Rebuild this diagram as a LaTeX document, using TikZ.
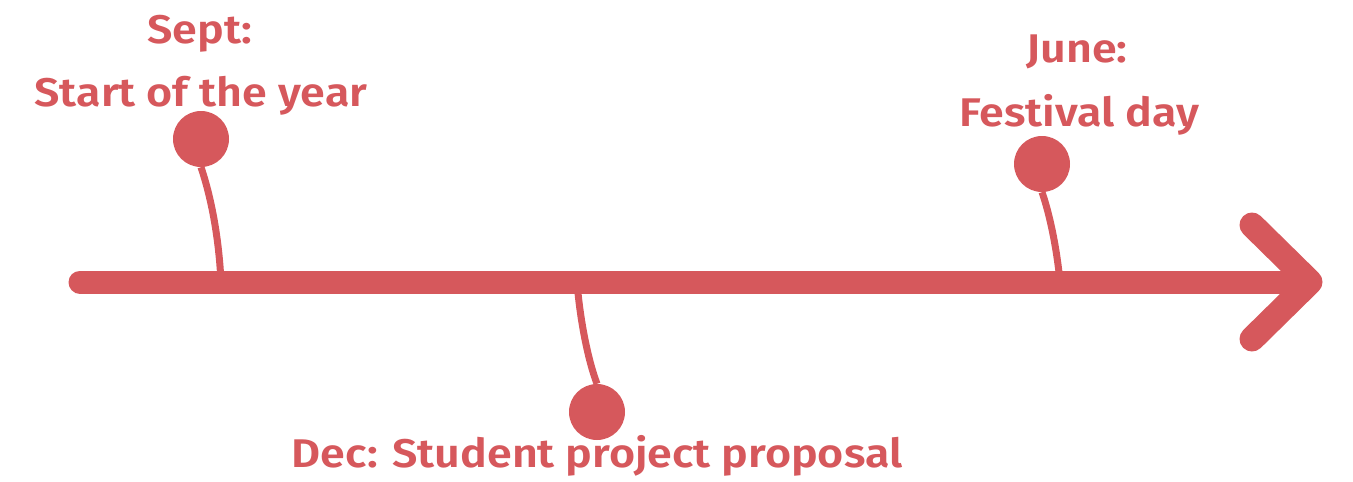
\documentclass[tikz,border=0pt]{standalone}
\usepackage{fontspec}
\setmainfont{Fira Sans}
\newfontfamily\lblfont{Fira Sans SemiBold}
\definecolor{tred}{HTML}{D6585C}
\begin{document}
\begin{tikzpicture}[x=1pt,y=-1pt]
\useasboundingbox (0,0) rectangle (1353,482);
\tikzset{dot/.style={circle, fill=tred, inner sep=0pt, minimum size=56pt},
  lbl/.style={text=tred, font=\fontsize{40}{46}\selectfont\lblfont, inner sep=0pt, anchor=base, xscale=1.12}}
\coordinate (a0) at (80,282);
\coordinate (a1) at (1310,282);
\draw[tred, line width=23pt, line cap=round](a0) -- (a1);
\coordinate (h0) at (1252,225);
\coordinate (h1) at (1252,339);
\draw[tred, line width=25pt, line cap=round, line join=round](h0) -- (a1) -- (h1);
\node[dot] (sept) at (201,139){};
\coordinate (sax) at (221,282);
\draw[tred, line width=7pt](sept.south) .. controls (212,200) and (219,240) .. (sax);
\node[dot] (dec) at (597,412){};
\coordinate (dax) at (577,282);
\draw[tred, line width=7pt](dax) .. controls (580,320) and (588,360) .. (dec.north);
\node[dot] (june) at (1042,164){};
\coordinate (jax) at (1060,282);
\draw[tred, line width=7pt](june.south) .. controls (1050,215) and (1057,250) .. (jax);
\node[lbl] (septhd) at (200,43){Sept:};
\node[lbl] (septtxt) at (201,106){Start of the year};
\node[lbl] (junehd) at (1077,62){June:};
\node[lbl] (junetxt) at (1079,126){Festival day};
\node[lbl] (dectxt) at (597,467){Dec: Student project proposal};
\end{tikzpicture}
\end{document}
